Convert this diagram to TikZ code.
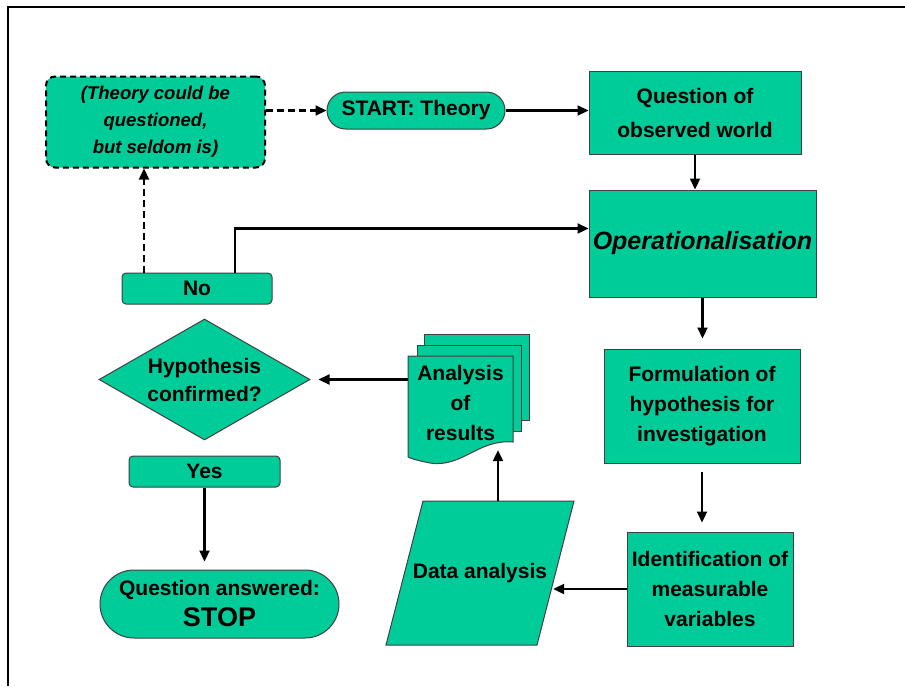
\documentclass[tikz,border=0pt]{standalone}
\usepackage{fontspec}
\setmainfont{Liberation Sans}
\usetikzlibrary{arrows.meta,calc,shapes.geometric,shapes.misc}
\definecolor{BoxClr}{rgb}{0,0.8,0.6}
\definecolor{EdgeClr}{rgb}{0.25,0.25,0.25}

\begin{document}
\begin{tikzpicture}[x=1pt,y=-1pt,
  flow/.style={draw=EdgeClr,line width=1pt,fill=BoxClr,align=center,inner sep=1pt,
    font=\fontsize{21}{30}\selectfont\bfseries},
  box/.style={flow,rectangle},
  tag/.style={flow,rectangle,rounded corners=4pt,minimum width=150pt,minimum height=31pt},
  pill/.style={flow,rounded rectangle},
  sheet/.style={fill=BoxClr,draw=EdgeClr,line width=1pt},
  link/.style={line width=2.2pt,-{Triangle[width=10pt,length=11pt]}},
  weak/.style={link,dash pattern=on 7pt off 4pt}]
\useasboundingbox (0,0) rectangle (905,686);
\draw[line width=2.5pt,line join=miter] (905,7) -- (8,7) -- (8,686);

\node[flow,rectangle,rounded corners=9pt,line width=2pt,draw=black,dash pattern=on 6pt off 4pt,
  minimum width=219pt,minimum height=91pt,font=\fontsize{18.5}{27}\selectfont\bfseries\itshape]
  (theory) at (155.5,122) {(Theory could be\\questioned,\\but seldom is)};
\node[pill,minimum width=180pt,minimum height=37pt] (start) at (416,110.5) {START: Theory};
\node[box,minimum width=212pt,minimum height=83pt,font=\fontsize{21}{34}\selectfont\bfseries]
  (quest) at (695,112.5) {Question of\\observed world};
\node[box,minimum width=227pt,minimum height=107pt,font=\fontsize{25}{30}\selectfont\bfseries\itshape]
  (oper) at (702.5,243.5) {Operationalisation};
\node[tag] (no) at (197,288.5) {No};
\node[flow,diamond,aspect=1.75,inner sep=0pt,minimum width=211pt,minimum height=121pt,
  font=\fontsize{21}{28}\selectfont\bfseries] (hyp) at (204.5,379.5) {Hypothesis\\confirmed?};
\node[box,minimum width=196pt,minimum height=114pt] (form) at (702,406)
  {Formulation of\\hypothesis for\\investigation};
\node[tag,minimum width=151pt] (yes) at (204.5,471.5) {Yes};
\filldraw[sheet] (386,645) -- (423,501) -- (574,501) -- (537,645) -- cycle;
\node[align=center,inner sep=0pt,minimum width=146pt,minimum height=144pt,
  font=\fontsize{21}{30}\selectfont\bfseries] (data) at (480,573) {Data analysis};
\node[box,minimum width=166pt,minimum height=114pt] (ident) at (710,589)
  {Identification of\\measurable\\variables};
\node[pill,minimum width=241pt,minimum height=68pt,font=\fontsize{21}{31}\selectfont\bfseries]
  (stop) at (219.5,604) {Question answered:\\{\fontsize{27}{31}\selectfont STOP}};

\filldraw[sheet] (424,334) rectangle (529,420);
\filldraw[sheet] (417,345) rectangle (521,431);
\filldraw[sheet] (408,356) -- (513,356) -- (513,442)
  .. controls (478,439) and (462,468) .. (430,463) .. controls (420,461) and (412,459) .. (408,457) -- cycle;
\node[align=center,inner sep=0pt,minimum width=105pt,minimum height=94pt,
  font=\fontsize{21}{30}\selectfont\bfseries] (results) at (460.5,403) {Analysis\\of\\results};

\draw[weak] (theory.east |- start.west) -- (start.west);
\draw[link] (start.east) -- (quest.west |- start.east);
\draw[link] (quest.south) -- (quest.south |- oper.north);
\draw[link,shorten >=10pt] (oper.south) -- (oper.south |- form.north);
\draw[link,shorten <=8pt,shorten >=9pt] (form.south) -- (form.south |- ident.north);
\draw[link] (ident.west) -- (data.east |- ident.west);
\draw[link] ([xshift=18pt]data.north) -- ([xshift=18pt]data.north |- results.south);
\draw[link,shorten >=8pt] (results.west |- hyp) -- (hyp.east);
\draw[link] ([xshift=38pt]no.north) |- ([yshift=15pt]oper.west);
\draw[weak] ([xshift=-53pt]no.north) -- ([xshift=-53pt]no.north |- theory.south);
\draw[link,shorten >=8pt] (yes.south) -- (yes.south |- stop.north);
\end{tikzpicture}
\end{document}
